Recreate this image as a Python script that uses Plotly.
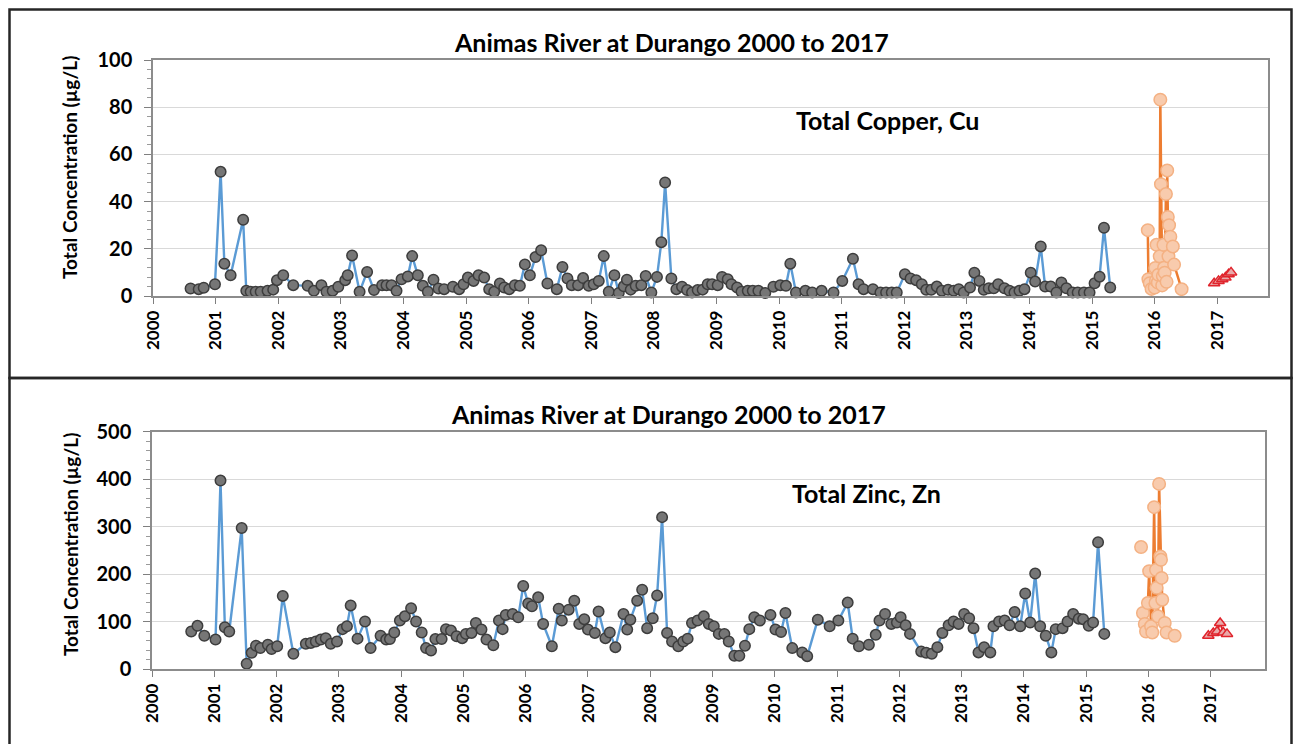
import plotly.graph_objects as go

# ---------------- data (decimal year, µg/L) ----------------
cu_hist_x = [2000.60, 2000.73, 2000.81, 2000.99, 2001.08, 2001.14, 2001.24, 2001.44, 2001.49, 2001.56,
             2001.64, 2001.72, 2001.83, 2001.92, 2001.98, 2002.08, 2002.24, 2002.47, 2002.57, 2002.69,
             2002.77, 2002.87, 2002.96, 2003.07, 2003.11, 2003.18, 2003.30, 2003.42, 2003.53, 2003.66,
             2003.73, 2003.81, 2003.89, 2003.97, 2004.07, 2004.14, 2004.23, 2004.31, 2004.39, 2004.48,
             2004.56, 2004.65, 2004.79, 2004.89, 2004.96, 2005.03, 2005.12, 2005.20, 2005.29, 2005.37,
             2005.45, 2005.54, 2005.61, 2005.69, 2005.78, 2005.86, 2005.94, 2006.02, 2006.11, 2006.20,
             2006.30, 2006.45, 2006.54, 2006.62, 2006.69, 2006.79, 2006.87, 2006.96, 2007.04, 2007.12,
             2007.20, 2007.28, 2007.37, 2007.44, 2007.52, 2007.57, 2007.63, 2007.71, 2007.80, 2007.87,
             2007.96, 2008.05, 2008.12, 2008.18, 2008.28, 2008.36, 2008.45, 2008.53, 2008.61, 2008.70,
             2008.78, 2008.86, 2008.93, 2009.02, 2009.09, 2009.18, 2009.24, 2009.33, 2009.40, 2009.50,
             2009.58, 2009.67, 2009.78, 2009.91, 2010.02, 2010.11, 2010.18, 2010.27, 2010.42, 2010.53,
             2010.68, 2010.87, 2011.01, 2011.18, 2011.27, 2011.35, 2011.50, 2011.62, 2011.71, 2011.80,
             2011.88, 2012.01, 2012.10, 2012.19, 2012.28, 2012.35, 2012.43, 2012.52, 2012.60, 2012.70,
             2012.79, 2012.87, 2012.95, 2013.05, 2013.12, 2013.20, 2013.27, 2013.35, 2013.43, 2013.50,
             2013.60, 2013.68, 2013.76, 2013.84, 2013.92, 2014.02, 2014.09, 2014.18, 2014.25, 2014.34,
             2014.43, 2014.51, 2014.59, 2014.69, 2014.77, 2014.87, 2014.96, 2015.04, 2015.12, 2015.19,
             2015.29]
cu_hist_y = [3.2, 2.9, 3.5, 5.0, 52.6, 13.7, 8.8, 32.3, 2.2, 1.8,
             1.8, 1.8, 2.2, 2.7, 6.7, 8.8, 4.6, 4.3, 2.2, 4.6,
             1.8, 2.2, 3.9, 6.7, 8.8, 17.2, 1.8, 10.2, 2.5, 4.6,
             4.6, 4.6, 2.2, 7.1, 8.3, 16.9, 8.8, 4.3, 1.8, 6.9,
             3.2, 2.9, 3.9, 2.9, 5.0, 7.8, 6.4, 8.8, 7.8, 2.9,
             1.8, 5.3, 3.6, 2.9, 4.6, 4.3, 13.4, 8.8, 16.5, 19.4,
             5.3, 2.9, 12.3, 7.4, 4.6, 4.6, 7.6, 4.3, 5.0, 6.4,
             16.9, 1.8, 8.8, 1.3, 4.1, 6.9, 2.7, 4.3, 4.6, 8.5,
             1.5, 8.1, 22.8, 48.1, 7.4, 2.9, 3.9, 2.5, 1.5, 2.5,
             2.7, 5.0, 5.0, 4.6, 8.1, 7.1, 5.0, 3.6, 1.8, 2.2,
             2.2, 2.2, 1.3, 3.9, 4.6, 4.3, 13.7, 1.5, 2.2, 1.5,
             2.2, 1.5, 6.4, 15.8, 5.0, 2.9, 2.9, 1.5, 1.5, 1.5,
             1.5, 9.2, 7.4, 6.7, 5.0, 2.6, 2.6, 4.0, 2.2, 2.6,
             2.2, 2.9, 1.5, 3.6, 9.9, 6.4, 2.6, 3.3, 3.3, 5.0,
             3.3, 2.2, 1.5, 2.2, 2.9, 9.9, 6.1, 21.0, 4.0, 4.0,
             1.5, 5.7, 3.3, 1.5, 1.5, 1.5, 1.5, 5.4, 8.2, 28.9,
             3.6]

cu_2016_x = [2015.89, 2015.90, 2015.92, 2015.95, 2016.00, 2016.01, 2016.02, 2016.03, 2016.05, 2016.06,
             2016.08, 2016.09, 2016.10, 2016.12, 2016.13, 2016.14, 2016.15, 2016.16, 2016.18, 2016.19,
             2016.20, 2016.21, 2016.22, 2016.23, 2016.25, 2016.29, 2016.31, 2016.43]
cu_2016_y = [27.9, 7.1, 5.4, 3.0, 3.6, 11.9, 6.5, 21.7, 5.7, 9.0,
             16.8, 83.2, 47.4, 4.5, 8.5, 21.7, 12.0, 9.9, 43.2, 6.0,
             53.2, 33.5, 16.8, 30.0, 25.1, 21.0, 13.3, 2.9]

cu_2017_x = [2016.95, 2017.02, 2017.08, 2017.13, 2017.18, 2017.22]
cu_2017_y = [5.4, 6.4, 7.1, 7.8, 9.2, 10.0]

zn_hist_x = [2000.63, 2000.73, 2000.84, 2001.02, 2001.10, 2001.17, 2001.24, 2001.44, 2001.52, 2001.60,
             2001.67, 2001.74, 2001.86, 2001.92, 2002.01, 2002.10, 2002.27, 2002.47, 2002.55, 2002.63,
             2002.71, 2002.79, 2002.87, 2002.97, 2003.06, 2003.13, 2003.19, 2003.30, 2003.42, 2003.51,
             2003.67, 2003.76, 2003.82, 2003.89, 2003.98, 2004.06, 2004.16, 2004.24, 2004.33, 2004.40,
             2004.48, 2004.55, 2004.65, 2004.72, 2004.80, 2004.89, 2004.98, 2005.04, 2005.13, 2005.20,
             2005.29, 2005.37, 2005.48, 2005.57, 2005.63, 2005.68, 2005.79, 2005.88, 2005.96, 2006.04,
             2006.10, 2006.20, 2006.28, 2006.42, 2006.53, 2006.58, 2006.69, 2006.78, 2006.86, 2006.94,
             2007.00, 2007.11, 2007.17, 2007.28, 2007.35, 2007.44, 2007.57, 2007.63, 2007.68, 2007.79,
             2007.87, 2007.95, 2008.04, 2008.11, 2008.19, 2008.27, 2008.35, 2008.45, 2008.53, 2008.60,
             2008.67, 2008.76, 2008.86, 2008.94, 2009.02, 2009.10, 2009.19, 2009.26, 2009.35, 2009.43,
             2009.52, 2009.59, 2009.67, 2009.76, 2009.93, 2010.01, 2010.10, 2010.17, 2010.28, 2010.44,
             2010.52, 2010.69, 2010.88, 2011.02, 2011.17, 2011.25, 2011.35, 2011.51, 2011.62, 2011.68,
             2011.77, 2011.87, 2011.96, 2012.02, 2012.10, 2012.17, 2012.35, 2012.43, 2012.52, 2012.61,
             2012.69, 2012.79, 2012.87, 2012.95, 2013.04, 2013.12, 2013.19, 2013.27, 2013.36, 2013.46,
             2013.51, 2013.60, 2013.69, 2013.77, 2013.85, 2013.94, 2014.02, 2014.10, 2014.18, 2014.26,
             2014.35, 2014.44, 2014.51, 2014.62, 2014.70, 2014.79, 2014.88, 2014.95, 2015.04, 2015.11,
             2015.19, 2015.29]
zn_hist_y = [79, 91, 70, 62, 397, 88, 79, 297, 11, 34,
             49, 44, 51, 42, 48, 154, 32, 53, 55, 58,
             62, 65, 53, 58, 84, 90, 134, 64, 100, 44,
             70, 62, 63, 77, 102, 111, 128, 100, 77, 44,
             39, 63, 63, 84, 81, 69, 65, 74, 76, 97,
             83, 62, 50, 102, 84, 114, 116, 109, 175, 138,
             132, 151, 95, 48, 127, 102, 125, 144, 95, 105,
             83, 76, 121, 65, 77, 46, 116, 83, 104, 144,
             167, 86, 107, 155, 320, 76, 58, 48, 58, 64,
             97, 102, 111, 95, 90, 74, 74, 58, 28, 28,
             49, 84, 109, 102, 114, 83, 78, 118, 44, 35,
             27, 104, 90, 102, 140, 64, 48, 51, 72, 102,
             116, 95, 98, 109, 92, 74, 37, 34, 32, 46,
             76, 92, 100, 95, 116, 107, 86, 35, 46, 35,
             90, 100, 102, 92, 120, 90, 159, 98, 201, 90,
             70, 35, 84, 86, 100, 116, 106, 105, 91, 98,
             267, 74]

zn_2016_x = [2015.88, 2015.895, 2015.91, 2015.94, 2015.96, 2015.99, 2016.01, 2016.04, 2016.06, 2016.09,
             2016.11, 2016.12, 2016.13, 2016.15, 2016.17, 2016.19, 2016.20, 2016.21, 2016.22, 2016.26,
             2016.29, 2016.42]
zn_2016_y = [257, None, 118, 95, 79, 139, 206, 90, 77, 341,
             139, 209, 171, 111, 390, 237, 230, 192, 146, 97,
             77, 70]

zn_2017_x = [2016.96, 2017.04, 2017.10, 2017.15, 2017.20, 2017.26]
zn_2017_y = [70, 76, 79, 97, 77, 74]

years = list(range(2000, 2018))
year_labels = [str(y) for y in years]

chart_title = "Animas River at Durango 2000 to 2017"
y_title = "Total Concentration (µg/L)"
cu_label = "Total Copper, Cu"
zn_label = "Total Zinc, Zn"

# ---------------- figure ----------------
# the page body has an 8px margin, so the figure sits at (8, 8) in the window
OFF = 8
W, H = 1301 - 2 * OFF, 752 - 2 * OFF
FONT = "Lato"


def px_x(p):
    return (p - OFF) / W


def px_y(p):
    return 1 - (p - OFF) / H


fig = go.Figure()


def add_series(xs, ys, xa, ya):
    hist_x, hist_y, x16, y16, x17, y17 = xs[0], ys[0], xs[1], ys[1], xs[2], ys[2]
    fig.add_trace(go.Scatter(
        x=hist_x, y=hist_y, mode="lines+markers", xaxis=xa, yaxis=ya,
        line=dict(color="#5B9BD5", width=2.4),
        marker=dict(size=10.5, color="#767676", line=dict(color="#3d3d3d", width=1.5)),
        showlegend=False, cliponaxis=False))
    fig.add_trace(go.Scatter(
        x=x16, y=y16, mode="lines+markers", xaxis=xa, yaxis=ya,
        line=dict(color="#ED7D31", width=2.5), connectgaps=False,
        marker=dict(size=12.5, color="#F8CBAD", line=dict(color="#F4B183", width=1.5)),
        showlegend=False, cliponaxis=False))
    fig.add_trace(go.Scatter(
        x=x17, y=y17, mode="lines+markers", xaxis=xa, yaxis=ya,
        line=dict(color="#E0242C", width=2),
        marker=dict(symbol="triangle-up", size=10, color="#E9A9A9",
                    line=dict(color="#E0242C", width=1.5)),
        showlegend=False, cliponaxis=False))


add_series([cu_hist_x, cu_2016_x, cu_2017_x], [cu_hist_y, cu_2016_y, cu_2017_y], "x", "y")
add_series([zn_hist_x, zn_2016_x, zn_2017_x], [zn_hist_y, zn_2016_y, zn_2017_y], "x2", "y2")

xtickfont = dict(family=FONT, size=17, color="#000000", weight="bold")
ytickfont = dict(family=FONT, size=20, color="#000000", weight="bold")
axis_line = "#8c8c8c"

xcommon = dict(tickmode="array", tickvals=years, ticktext=year_labels, tickangle=-90,
               ticks="outside", ticklen=6, tickcolor="#7f7f7f", tickwidth=1.2,
               showline=True, linecolor=axis_line, linewidth=1.5, mirror=True,
               showgrid=False, zeroline=False, tickfont=xtickfont, automargin=False)
ycommon = dict(ticks="outside", ticklen=7, tickcolor="#7f7f7f", tickwidth=1.2,
               showline=True, linecolor=axis_line, linewidth=1.5, mirror=True,
               showgrid=True, gridcolor="#d9d9d9", gridwidth=1, zeroline=False,
               tickfont=ytickfont, ticklabelstandoff=8, automargin=False)

fig.update_layout(
    template="none",
    width=W, height=H, margin=dict(l=0, r=0, t=0, b=0, pad=0), autosize=False,
    paper_bgcolor="white", plot_bgcolor="white",
    xaxis=dict(domain=[px_x(153), px_x(1268)], range=[2000, 2017.81], anchor="y", **xcommon),
    yaxis=dict(domain=[px_y(296), px_y(60)], range=[0, 100], dtick=20, anchor="x",
               minor=dict(dtick=4, ticks="outside", ticklen=4, tickcolor="#9a9a9a", showgrid=False),
               **ycommon),
    xaxis2=dict(domain=[px_x(152), px_x(1265)], range=[2000, 2017.87], anchor="y2", **xcommon),
    yaxis2=dict(domain=[px_y(669), px_y(431.7)], range=[0, 500], dtick=100, anchor="x2",
                minor=dict(dtick=20, ticks="outside", ticklen=4, tickcolor="#9a9a9a", showgrid=False),
                **ycommon),
)

# panel frames (kept just inside the figure area)
frame = dict(color="#262626", width=2.5)
fig.add_shape(type="rect", xref="paper", yref="paper",
              x0=px_x(9.5), x1=px_x(1291.5), y0=px_y(378), y1=px_y(9.5), line=frame)
fig.add_shape(type="rect", xref="paper", yref="paper",
              x0=px_x(9.5), x1=px_x(1291.5), y0=px_y(760), y1=px_y(378), line=frame)

title_font = dict(family=FONT, size=25, color="#000000", weight="bold")
label_font = dict(family=FONT, size=25, color="#000000", weight="bold")
ytitle_font = dict(family=FONT, size=19, color="#000000", weight="bold")

ann = [
    dict(text=chart_title, x=px_x(671), y=px_y(42), font=title_font),
    dict(text=chart_title, x=px_x(669), y=px_y(414), font=title_font),
    dict(text=cu_label, x=px_x(887), y=px_y(120), font=label_font),
    dict(text=zn_label, x=px_x(866), y=px_y(493), font=label_font),
    dict(text=y_title, x=px_x(70), y=px_y(168), font=ytitle_font, textangle=-90),
    dict(text=y_title, x=px_x(70), y=px_y(545), font=ytitle_font, textangle=-90),
]
for a in ann:
    fig.add_annotation(xref="paper", yref="paper", showarrow=False,
                       xanchor="center", yanchor="middle", **a)

fig.write_html("out.html")
